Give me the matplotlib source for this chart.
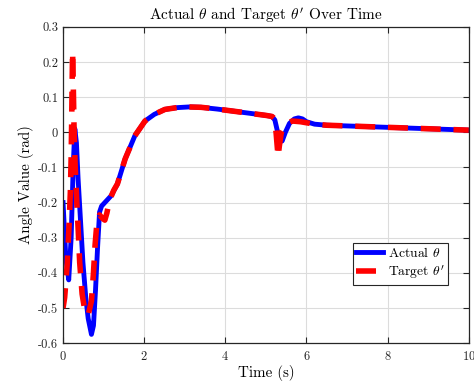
import matplotlib
matplotlib.use("Agg")
import matplotlib.pyplot as plt
from matplotlib.ticker import FuncFormatter

plt.rcParams['font.family'] = 'serif'
plt.rcParams['font.serif'] = ['cmr10', 'DejaVu Serif']
plt.rcParams['mathtext.fontset'] = 'cm'
plt.rcParams['axes.unicode_minus'] = False
plt.rcParams['axes.formatter.use_mathtext'] = True

# values
t_actual = [0.00, 0.07, 0.14, 0.20, 0.25, 0.29, 0.33, 0.37, 0.43, 0.49, 0.56,
            0.62, 0.70, 0.75, 0.80, 0.85, 0.90, 0.95, 1.03, 1.19, 1.34, 1.53,
            1.77, 2.02, 2.25, 2.51, 2.8, 3.1, 3.4, 3.8, 4.2, 4.6, 5.0, 5.15,
            5.22, 5.28, 5.34, 5.40, 5.48, 5.58, 5.70, 5.80, 5.90, 6.0, 6.2,
            6.5, 7.0, 7.5, 8.0, 8.5, 9.0, 9.5, 10.0]
theta_actual = [-0.20, -0.36, -0.42, -0.30, -0.10, 0.01, -0.03, -0.13, -0.25,
                -0.37, -0.47, -0.53, -0.575, -0.55, -0.45, -0.33, -0.227,
                -0.21, -0.20, -0.18, -0.147, -0.076, -0.01, 0.032, 0.051,
                0.065, 0.070, 0.072, 0.071, 0.066, 0.060, 0.054, 0.048, 0.045,
                0.035, 0.005, -0.025, -0.025, 0.000, 0.025, 0.038, 0.041,
                0.038, 0.030, 0.023, 0.020, 0.018, 0.016, 0.014, 0.012, 0.010,
                0.008, 0.006]

t_target = [0.00, 0.04, 0.10, 0.15, 0.18, 0.20, 0.215, 0.225, 0.235, 0.25,
            0.27, 0.30, 0.34, 0.37, 0.41, 0.47, 0.54, 0.62, 0.70, 0.75, 0.79,
            0.84, 0.90, 0.97, 1.03, 1.08, 1.14, 1.25, 1.34, 1.53, 1.77, 2.02,
            2.25, 2.51, 2.8, 3.1, 3.4, 3.8, 4.2, 4.6, 5.0, 5.15, 5.20, 5.25,
            5.30, 5.33, 5.38, 5.50, 5.65, 5.85, 6.0, 6.2, 6.5, 7.0, 7.5, 8.0,
            8.5, 9.0, 9.5, 10.0]
theta_target = [-0.50, -0.47, -0.38, -0.26, -0.17, -0.07, 0.05, 0.15, 0.23,
                0.15, 0.02, -0.10, -0.20, -0.27, -0.37, -0.46, -0.51, -0.52,
                -0.48, -0.40, -0.32, -0.25, -0.235, -0.245, -0.25, -0.23,
                -0.195, -0.165, -0.147, -0.076, -0.01, 0.032, 0.051, 0.065,
                0.070, 0.072, 0.071, 0.066, 0.060, 0.054, 0.048, 0.045, 0.040,
                0.000, -0.070, -0.040, 0.000, 0.025, 0.032, 0.030, 0.027,
                0.023, 0.020, 0.018, 0.016, 0.014, 0.012, 0.010, 0.008, 0.006]

fig = plt.figure(figsize=(4.74, 3.83), dpi=100)
ax = fig.add_axes([0.133, 0.104, 0.856, 0.826])

ax.plot(t_actual, theta_actual, color='#0000ff', linewidth=3.5,
        label=r'Actual $\theta$', solid_joinstyle='round')
ax.plot(t_target, theta_target, color='#ff0000', linewidth=4,
        dashes=[3.6, 2.3], dash_capstyle='butt', label=r"Target $\theta'$")

ax.set_xlim(0, 10)
ax.set_ylim(-0.6, 0.3)
ax.set_xticks([0, 2, 4, 6, 8, 10])
ax.set_yticks([-0.6, -0.5, -0.4, -0.3, -0.2, -0.1, 0, 0.1, 0.2, 0.3])
ax.yaxis.set_major_formatter(FuncFormatter(lambda v, p: f'{round(v, 2):g}'))
ax.grid(True, color='#dcdcdc', linewidth=0.8)
ax.set_axisbelow(True)
ax.tick_params(direction='in', top=True, right=True, length=4, width=0.8,
               labelsize=9, colors='#262626', labelcolor='#262626')
ax.tick_params(axis='x', pad=5)
for s in ax.spines.values():
    s.set_color('#262626')
    s.set_linewidth(0.9)

ax.set_xlabel('Time (s)', fontsize=10.8, labelpad=1)
ax.set_ylabel('Angle Value (rad)', fontsize=10.8, labelpad=3)
ax.set_title(r"Actual $\theta$ and Target $\theta'$ Over Time", fontsize=11,
             pad=5)

leg = ax.legend(loc='lower right', bbox_to_anchor=(0.95, 0.185), fontsize=9.8,
                fancybox=False, framealpha=1, edgecolor='#262626',
                handlelength=2.0, borderpad=0.25, labelspacing=0.25,
                handletextpad=0.35, borderaxespad=0)
leg.get_frame().set_linewidth(0.8)

fig.savefig('out.png', dpi=100)
